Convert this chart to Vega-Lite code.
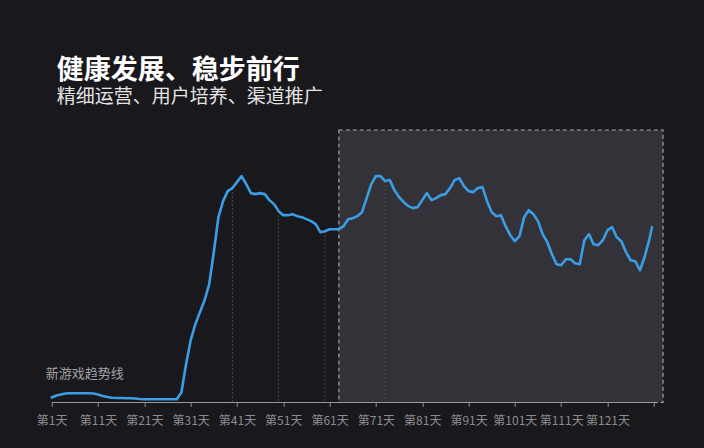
{
  "$schema": "https://vega.github.io/schema/vega-lite/v6.json",
  "autosize": "none",
  "width": 616,
  "height": 272.5,
  "padding": {"left": 51.7, "top": 130, "right": 36.3, "bottom": 45.5},
  "background": "#19181d",
  "config": {
    "view": {"stroke": null},
    "font": "Noto Sans CJK SC",
    "axis": {"grid": false}
  },
  "title": {
    "text": "健康发展、稳步前行",
    "subtitle": "精细运营、用户培养、渠道推广",
    "anchor": "start",
    "frame": "group",
    "dx": 5,
    "offset": 21,
    "font": "Noto Sans CJK SC",
    "fontSize": 27,
    "fontWeight": "bold",
    "color": "#ffffff",
    "subtitleFont": "Noto Sans CJK SC",
    "subtitleFontSize": 19,
    "subtitleColor": "#e4e4e4",
    "subtitlePadding": 3
  },
  "datasets": {
    "trend": [
      {"day": 1, "v": 5}, {"day": 2, "v": 7}, {"day": 3, "v": 8}, {"day": 4, "v": 9}, {"day": 5, "v": 9.3},
      {"day": 6, "v": 9.3}, {"day": 7, "v": 9.3}, {"day": 8, "v": 9.3}, {"day": 9, "v": 9.3}, {"day": 10, "v": 9},
      {"day": 11, "v": 8}, {"day": 12, "v": 6.5}, {"day": 13, "v": 5.5}, {"day": 14, "v": 4.7}, {"day": 15, "v": 4.5},
      {"day": 16, "v": 4.5}, {"day": 17, "v": 4.3}, {"day": 18, "v": 4.3}, {"day": 19, "v": 4}, {"day": 20, "v": 3.5},
      {"day": 21, "v": 3.3}, {"day": 22, "v": 3.3}, {"day": 23, "v": 3.3}, {"day": 24, "v": 3.3}, {"day": 25, "v": 3.3},
      {"day": 26, "v": 3.3}, {"day": 27, "v": 3.3}, {"day": 28, "v": 3.3}, {"day": 29, "v": 10}, {"day": 30, "v": 38},
      {"day": 31, "v": 62}, {"day": 32, "v": 78}, {"day": 33, "v": 90}, {"day": 34, "v": 102}, {"day": 35, "v": 118},
      {"day": 36, "v": 150}, {"day": 37, "v": 185}, {"day": 38, "v": 201}, {"day": 39, "v": 211}, {"day": 40, "v": 214},
      {"day": 41, "v": 220}, {"day": 42, "v": 226}, {"day": 43, "v": 218}, {"day": 44, "v": 209}, {"day": 45, "v": 208},
      {"day": 46, "v": 209}, {"day": 47, "v": 208}, {"day": 48, "v": 202}, {"day": 49, "v": 198}, {"day": 50, "v": 191},
      {"day": 51, "v": 187}, {"day": 52, "v": 187}, {"day": 53, "v": 188}, {"day": 54, "v": 186}, {"day": 55, "v": 185},
      {"day": 56, "v": 183}, {"day": 57, "v": 181}, {"day": 58, "v": 178}, {"day": 59, "v": 170}, {"day": 60, "v": 171},
      {"day": 61, "v": 173}, {"day": 62, "v": 173}, {"day": 63, "v": 173}, {"day": 64, "v": 176}, {"day": 65, "v": 183},
      {"day": 66, "v": 184}, {"day": 67, "v": 186}, {"day": 68, "v": 190}, {"day": 69, "v": 204}, {"day": 70, "v": 218},
      {"day": 71, "v": 226}, {"day": 72, "v": 226}, {"day": 73, "v": 221}, {"day": 74, "v": 222}, {"day": 75, "v": 212},
      {"day": 76, "v": 205}, {"day": 77, "v": 200}, {"day": 78, "v": 196}, {"day": 79, "v": 194}, {"day": 80, "v": 195},
      {"day": 81, "v": 202}, {"day": 82, "v": 209}, {"day": 83, "v": 202}, {"day": 84, "v": 204}, {"day": 85, "v": 207},
      {"day": 86, "v": 208}, {"day": 87, "v": 214}, {"day": 88, "v": 222}, {"day": 89, "v": 224}, {"day": 90, "v": 216},
      {"day": 91, "v": 211}, {"day": 92, "v": 210}, {"day": 93, "v": 214}, {"day": 94, "v": 215}, {"day": 95, "v": 201},
      {"day": 96, "v": 190}, {"day": 97, "v": 186}, {"day": 98, "v": 187}, {"day": 99, "v": 176}, {"day": 100, "v": 167},
      {"day": 101, "v": 161}, {"day": 102, "v": 166}, {"day": 103, "v": 185}, {"day": 104, "v": 192}, {"day": 105, "v": 188},
      {"day": 106, "v": 181}, {"day": 107, "v": 168}, {"day": 108, "v": 160}, {"day": 109, "v": 148}, {"day": 110, "v": 138},
      {"day": 111, "v": 137}, {"day": 112, "v": 143}, {"day": 113, "v": 143}, {"day": 114, "v": 139}, {"day": 115, "v": 138},
      {"day": 116, "v": 162}, {"day": 117, "v": 168}, {"day": 118, "v": 158}, {"day": 119, "v": 157}, {"day": 120, "v": 162},
      {"day": 121, "v": 172}, {"day": 122, "v": 175}, {"day": 123, "v": 165}, {"day": 124, "v": 161}, {"day": 125, "v": 150},
      {"day": 126, "v": 142}, {"day": 127, "v": 141}, {"day": 128, "v": 132}, {"day": 129, "v": 145}, {"day": 130, "v": 162},
      {"day": 130.6, "v": 175}
    ],
    "drops": [
      {"day": 40, "v": 214}, {"day": 50, "v": 191}, {"day": 60, "v": 171}, {"day": 73, "v": 221}
    ],
    "region": [{"day": 63, "day2": 133, "v": 0, "v2": 272}],
    "baseline": [{"day": 1, "day2": 131, "v": 0}],
    "note": [{"day": 1, "v": 28, "label": "新游戏趋势线"}]
  },
  "encoding": {
    "x": {
      "field": "day",
      "type": "quantitative",
      "scale": {"domain": [1, 134], "nice": false, "zero": false},
      "axis": {
        "title": null,
        "domain": false,
        "grid": false,
        "values": [1, 11, 21, 31, 41, 51, 61, 71, 81, 91, 101, 111, 121, 131],
        "labelExpr": "datum.value > 125 ? '' : '第' + datum.value + '天'",
        "labelColor": "#8c8c90",
        "labelFontSize": 12,
        "labelFont": "Noto Sans CJK SC",
        "labelPadding": 9,
        "tickColor": "#8c8c90",
        "tickSize": 4,
        "labelFlush": false,
        "labelOverlap": false
      }
    },
    "y": {
      "field": "v",
      "type": "quantitative",
      "scale": {"domain": [0, 272], "nice": false},
      "axis": null
    }
  },
  "layer": [
    {
      "data": {"name": "region"},
      "mark": {"type": "rect", "fill": "#3c3b43", "fillOpacity": 0.75, "stroke": "#a8a8ae", "strokeWidth": 1.1, "strokeDash": [4, 3]},
      "encoding": {
        "x2": {"field": "day2"},
        "y2": {"field": "v2"}
      }
    },
    {
      "data": {"name": "baseline"},
      "mark": {"type": "rule", "stroke": "#9a9a9e", "strokeWidth": 1},
      "encoding": {
        "x2": {"field": "day2"}
      }
    },
    {
      "data": {"name": "drops"},
      "mark": {"type": "rule", "stroke": "#4a4950", "strokeWidth": 1, "strokeDash": [2, 2]},
      "encoding": {
        "y2": {"datum": 0}
      }
    },
    {
      "data": {"name": "trend"},
      "mark": {"type": "line", "stroke": "#3b9de6", "strokeWidth": 2.6, "strokeJoin": "round", "strokeCap": "round"},
      "encoding": {}
    },
    {
      "data": {"name": "note"},
      "mark": {"type": "text", "align": "left", "baseline": "middle", "dx": -6, "fontSize": 13, "color": "#a2a2a6", "font": "Noto Sans CJK SC"},
      "encoding": {
        "text": {"field": "label"}
      }
    }
  ]
}
